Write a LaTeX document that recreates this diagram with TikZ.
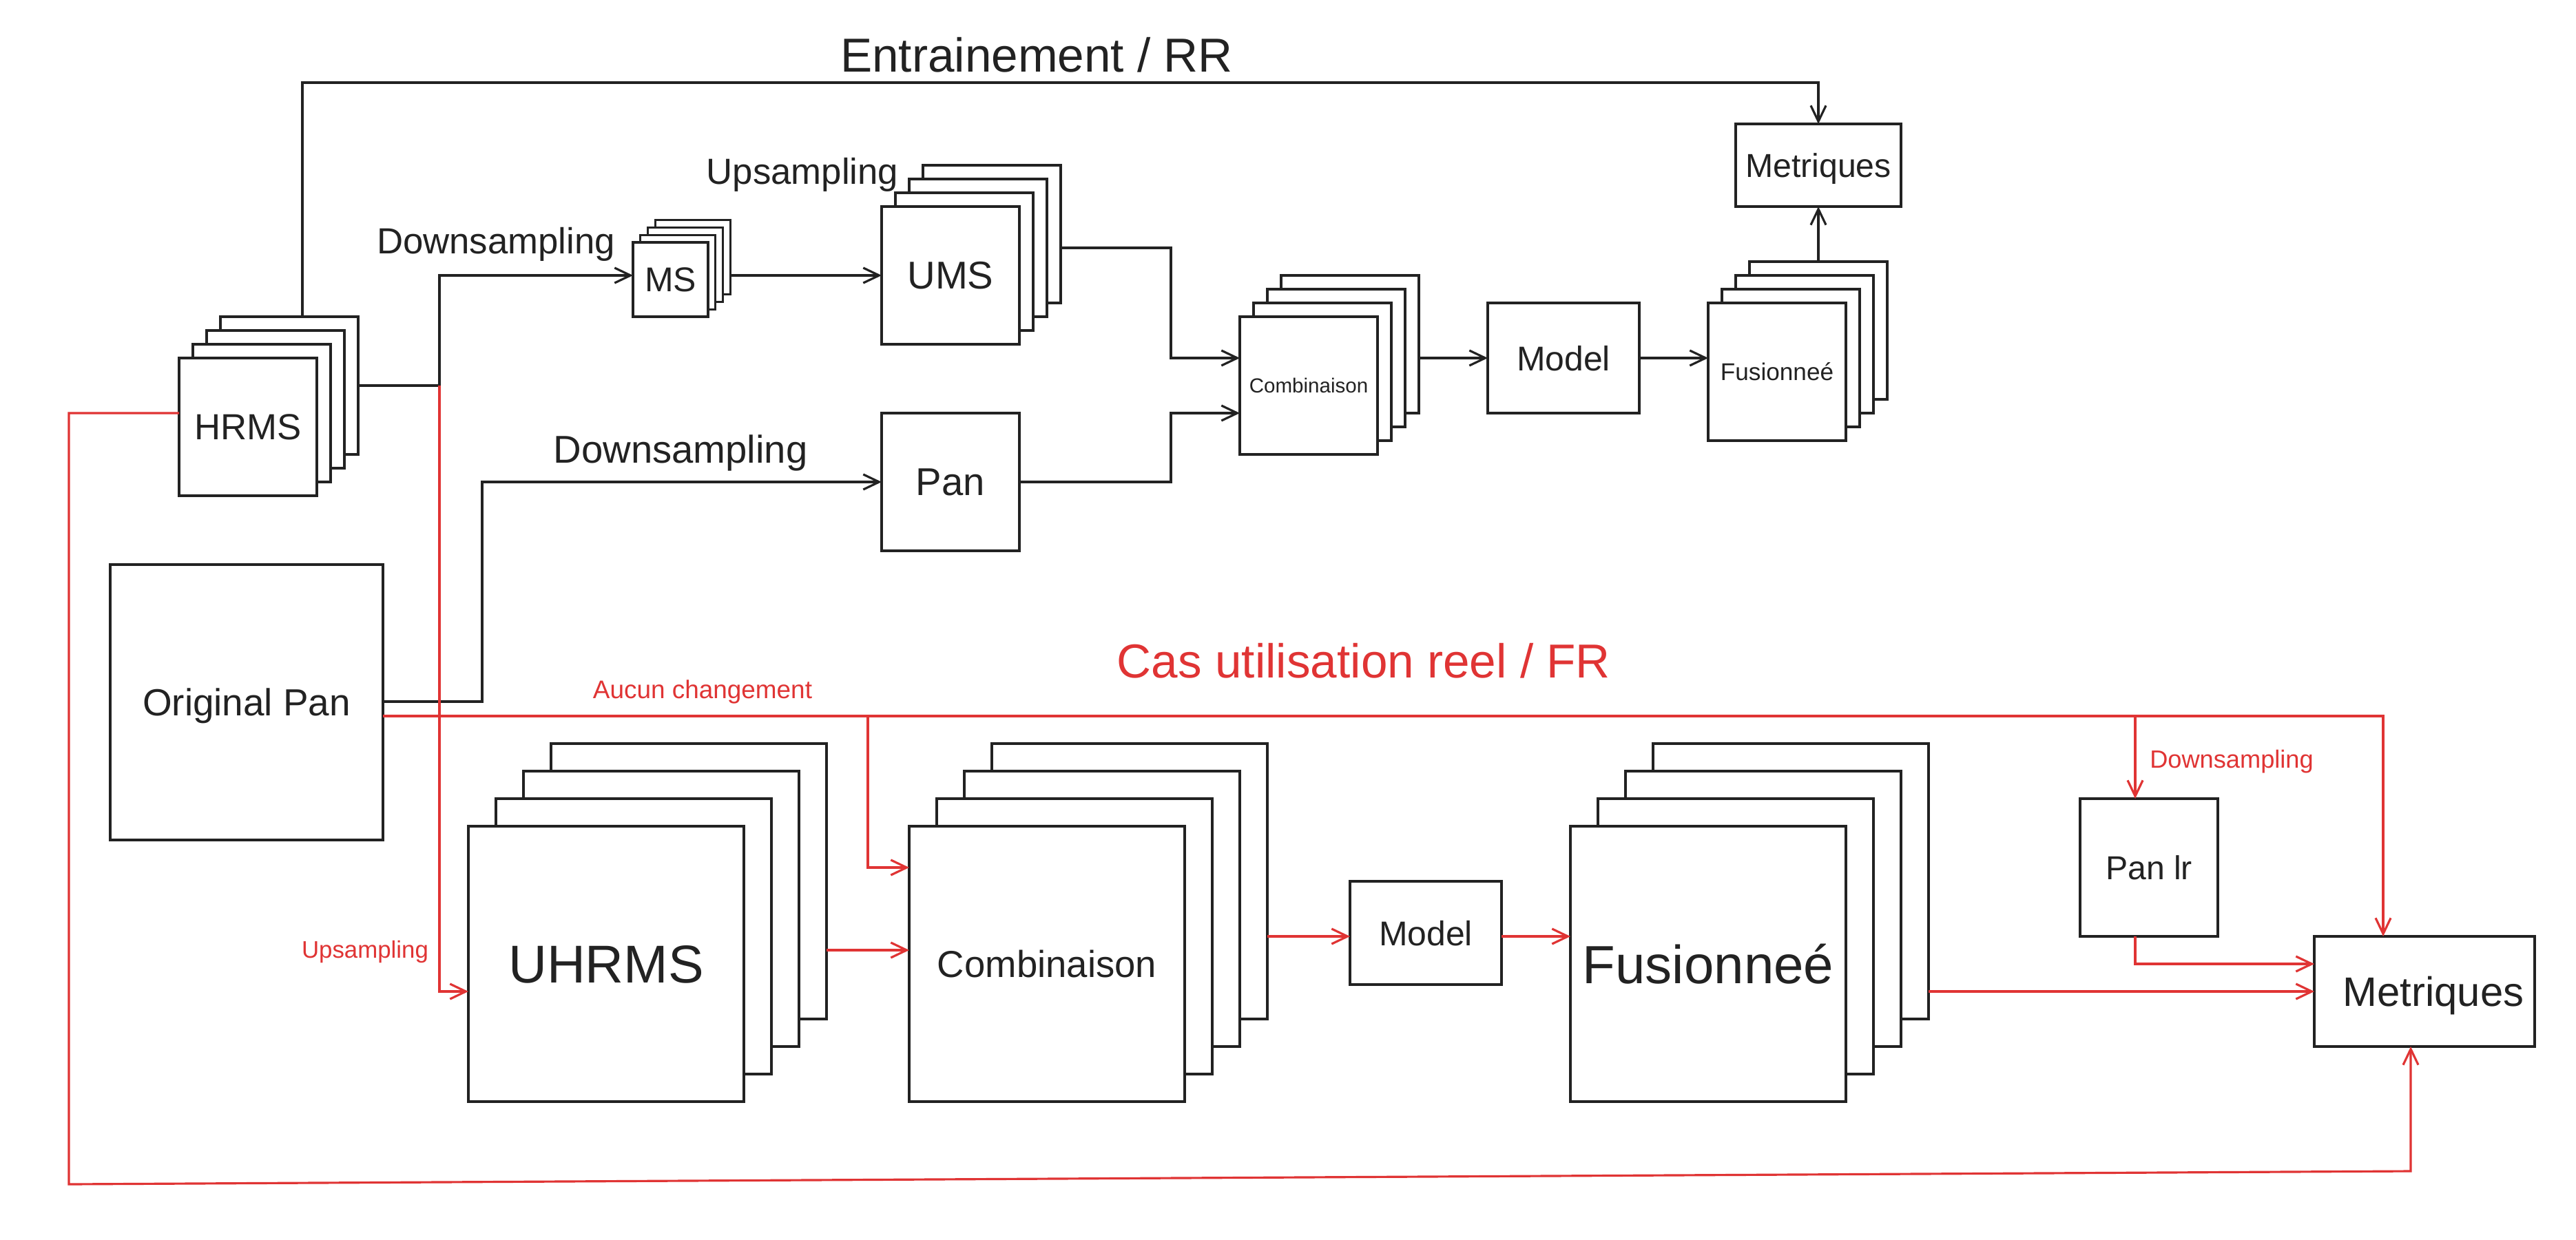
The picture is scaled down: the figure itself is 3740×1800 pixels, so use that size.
\documentclass[tikz,border=0pt]{standalone}
\usepackage{fontspec}
\setmainfont{Liberation Sans}
\usetikzlibrary{arrows.meta}
\definecolor{ink}{HTML}{222222}
\definecolor{rd}{HTML}{E03434}
\newcommand\fsz[1]{\fontsize{#1pt}{#1pt}\selectfont}
\newcommand\mkbox[7]{%
  \node[boxst,#1,minimum width={(#5-#3)*0.01cm},minimum height={(#6-#4)*0.01cm}] (#2) at ({(#3+#5)/2},{(#4+#6)/2}) {#7};}
\newcommand\mkstack[8]{%
  \foreach \k in {3,2,1}{%
    \node[boxst,minimum width={(#5-#3)*0.01cm},minimum height={(#6-#4)*0.01cm}] (#2\k) at ({(#3+#5)/2+\k*#7},{(#4+#6)/2-\k*#7}) {};}
  \mkbox{#1}{#2}{#3}{#4}{#5}{#6}{#8}}
\begin{document}
\begin{tikzpicture}[x=0.01cm,y=-0.01cm,line width=0.9pt,
  boxst/.style={draw=ink,fill=white,inner sep=0pt,outer sep=0pt,text=ink,text depth=0pt},
  wire/.style={draw=ink,-{Straight Barb[length=2.3mm,width=2.2mm]}},
  rwire/.style={draw=rd,-{Straight Barb[length=2.3mm,width=2.2mm]}},
  plain/.style={draw=ink},
  rplain/.style={draw=rd},
  lbl/.style={inner sep=0pt,anchor=base,text=ink},
  rlbl/.style={inner sep=0pt,anchor=base,text=rd}]
\useasboundingbox[fill=white] (0,0) rectangle (3740,1800);

% ---------- top part (RR) ----------
\mkstack{font=\fsz{15}}{hrms}{260}{520}{460}{720}{20}{HRMS}
\mkstack{font=\fsz{14.2}}{ms}{919}{352}{1028}{460}{10.7}{MS}
\mkstack{font=\fsz{16}}{ums}{1280}{300}{1480}{500}{20}{UMS}
\mkbox{font=\fsz{16}}{pan}{1280}{600}{1480}{800}{Pan}
\mkstack{font=\fsz{8.4}}{combs}{1800}{460}{2000}{660}{20}{Combinaison}
\mkbox{font=\fsz{14.2}}{modelt}{2160}{440}{2380}{600}{Model}
\mkstack{font=\fsz{10}}{fuss}{2480}{440}{2680}{640}{20}{Fusionneé}
\mkbox{font=\fsz{13.7}}{mettop}{2520}{180}{2760}{300}{Metriques}
\mkbox{font=\fsz{15.6}}{opan}{160}{820}{556}{1220}{Original Pan}

% ---------- bottom part (FR) ----------
\mkstack{font=\fsz{22}}{uhrms}{680}{1200}{1080}{1600}{40}{UHRMS}
\mkstack{font=\fsz{15.5}}{combb}{1320}{1200}{1720}{1600}{40}{Combinaison}
\mkbox{font=\fsz{14.2}}{modelb}{1960}{1280}{2180}{1430}{Model}
\mkstack{font=\fsz{22.2}}{fusb}{2280}{1200}{2680}{1600}{40}{Fusionneé}
\mkbox{font=\fsz{13.7}}{panlr}{3020}{1160}{3220}{1360}{Pan lr}
\mkbox{font=\fsz{17}}{metbot}{3360}{1360}{3680}{1520}{\hspace*{0.26cm}Metriques}

% ---------- labels ----------
\node[lbl,font=\fsz{19.7}] (ttop) at (1505,105) {Entrainement / RR};
\node[rlbl,font=\fsz{19.7}] (tbot) at (1980,984) {Cas utilisation reel / FR};
\node[lbl,font=\fsz{15}] (ldown1) at (720,368) {Downsampling};
\node[lbl,font=\fsz{15}] (lup1) at (1165,268) {Upsampling};
\node[lbl,font=\fsz{16}] (ldown2) at (988,672) {Downsampling};
\node[rlbl,font=\fsz{10.5}] (lauc) at (1020,1014) {Aucun changement};
\node[rlbl,font=\fsz{9.9}] (lup2) at (530,1391) {Upsampling};
\node[rlbl,font=\fsz{10.3}] (ldown3) at (3240,1115) {Downsampling};

% ---------- coordinates ----------
\coordinate (ctop) at (439,120);
\coordinate (j1) at (638,560);
\coordinate (j2) at (1700,360);
\coordinate (j3) at (1700,700);
\coordinate (j4) at (700,1019);
\coordinate (r1) at (3460,1040);
\coordinate (r2) at (1260,1040);
\coordinate (r3) at (3100,1040);
\coordinate (r4) at (100,600);
\coordinate (r5) at (100,1720);
\coordinate (r6) at (3500,1701);

% ---------- top connectors ----------
\draw[wire] (hrms3.north -| ctop) -- (ctop) -| (mettop.north);
\draw[plain] (hrms3.east |- j1) -- (j1);
\draw[wire] (j1) -- (638,400) -- (ms.west |- 0,400);
\draw[wire] (ms3.east |- 0,400) -- (ums.west |- 0,400);
\draw[wire] (ums3.east |- j2) -- (j2) -- (1700,520) -- (combs.west |- 0,520);
\draw[wire] (opan.east |- j4) -- (j4) -- (700,700) -- (pan.west);
\draw[wire] (pan.east) -- (j3) -- (1700,600) -- (combs.west |- 0,600);
\draw[wire] (combs3.east |- modelt.west) -- (modelt.west);
\draw[wire] (modelt.east) -- (fuss.west |- modelt.east);
\draw[wire] (fuss3.north) -- (mettop.south);

% ---------- bottom connectors ----------
\draw[rwire] (j1) -- (638,1440) -- (uhrms.west |- 0,1440);
\draw[rwire] (opan.east |- r1) -- (r1) -- (metbot.north -| r1);
\draw[rwire] (r2) -- (1260,1260) -- (combb.west |- 0,1260);
\draw[rwire] (r3) -- (panlr.north -| r3);
\draw[rwire] (panlr.south -| r3) -- (3100,1400) -- (metbot.west |- 0,1400);
\draw[rwire] (uhrms3.east |- 0,1380) -- (combb.west |- 0,1380);
\draw[rwire] (combb3.east |- 0,1360) -- (modelb.west |- 0,1360);
\draw[rwire] (modelb.east |- 0,1360) -- (fusb.west |- 0,1360);
\draw[rwire] (fusb3.east |- 0,1440) -- (metbot.west |- 0,1440);
\draw[rwire] (hrms.west |- r4) -- (r4) -- (r5) -- (r6) -- (metbot.south -| r6);
\end{tikzpicture}
\end{document}
